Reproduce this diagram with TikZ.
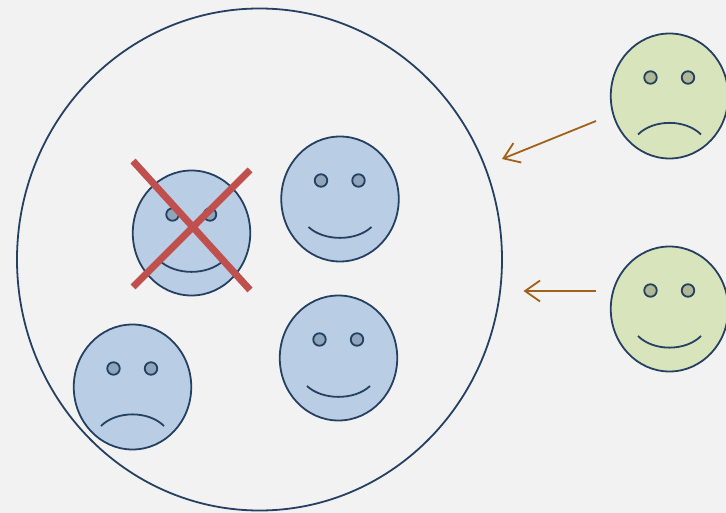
\documentclass[tikz,border=0pt]{standalone}
\usetikzlibrary{shapes.geometric,arrows.meta}

\definecolor{bgcol}{HTML}{F2F2F2}
\definecolor{linecol}{HTML}{254061}
\definecolor{bluecol}{HTML}{B9CDE5}
\definecolor{blueeye}{HTML}{8FA5BC}
\definecolor{greencol}{HTML}{D8E4BC}
\definecolor{greeneye}{HTML}{AEB796}
\definecolor{crosscol}{HTML}{C0504D}
\definecolor{arrowcol}{HTML}{A0621A}

\tikzset{
  head/.style={ellipse,draw=linecol,line width=1.8pt,minimum width=117.5pt,minimum height=125pt,inner sep=0pt},
  eye/.style={circle,draw=linecol,line width=1.8pt,minimum size=12.5pt,inner sep=0pt},
  mouth/.style={draw=linecol,line width=1.8pt},
  crossline/.style={draw=crosscol,line width=7pt},
  enter/.style={draw=arrowcol,line width=1.8pt,-{Straight Barb[length=15pt,width=21pt,line width=1.8pt]}}
}

% name, x, y, head colour, eye colour
\newcommand{\faceparts}[5]{
  \node [head,fill=#4] (#1) at (#2,#3) {};
  \node [eye,fill=#5] (#1l) at (#2-19,#3-18.5) {};
  \node [eye,fill=#5] (#1r) at (#2+18.5,#3-18.5) {};
}

\begin{document}
\begin{tikzpicture}[x=1pt,y=-1pt]

\useasboundingbox [fill=bgcol] (0,0) rectangle (726,513);

\node [ellipse,draw=linecol,line width=1.8pt,minimum width=485pt,minimum height=502pt,inner sep=0pt] (crowd) at (259.5,259.5) {};

% faces inside
\faceparts{crossed}{191.5}{233}{bluecol}{blueeye}
\draw [mouth] (160,261) .. controls (176,275.5) and (207,275.5) .. (223,261);

\faceparts{happytop}{340}{199}{bluecol}{blueeye}
\draw [mouth] (308.5,227) .. controls (324,241.5) and (356,241.5) .. (371.5,227);

\faceparts{happylow}{338.5}{358}{bluecol}{blueeye}
\draw [mouth] (307,386) .. controls (322.5,400.5) and (354.5,400.5) .. (370,386);

\faceparts{sad}{132.5}{387}{bluecol}{blueeye}
\draw [mouth] (101,426) .. controls (116.5,410.5) and (148.5,410.5) .. (164,426);

% faces outside
\faceparts{newtop}{669.5}{96}{greencol}{greeneye}
\draw [mouth] (638,134.5) .. controls (653.5,119) and (685.5,119) .. (701,134.5);

\faceparts{newlow}{669.5}{309}{greencol}{greeneye}
\draw [mouth] (638,336) .. controls (653.5,351.5) and (685.5,351.5) .. (701,336);

% the cross
\coordinate (crossa) at (133,161);
\coordinate (crossb) at (250,290);
\coordinate (crossc) at (133,287);
\coordinate (crossd) at (250,170);
\draw [crossline] (crossa) -- (crossb);
\draw [crossline] (crossc) -- (crossd);

% arrows
\coordinate (fromtop) at (596,121);
\coordinate (totop) at (502,159);
\coordinate (fromlow) at (596,291);
\coordinate (tolow) at (523.5,291);
\draw [enter] (fromtop) -- (totop);
\draw [enter] (fromlow) -- (tolow);

\end{tikzpicture}
\end{document}
